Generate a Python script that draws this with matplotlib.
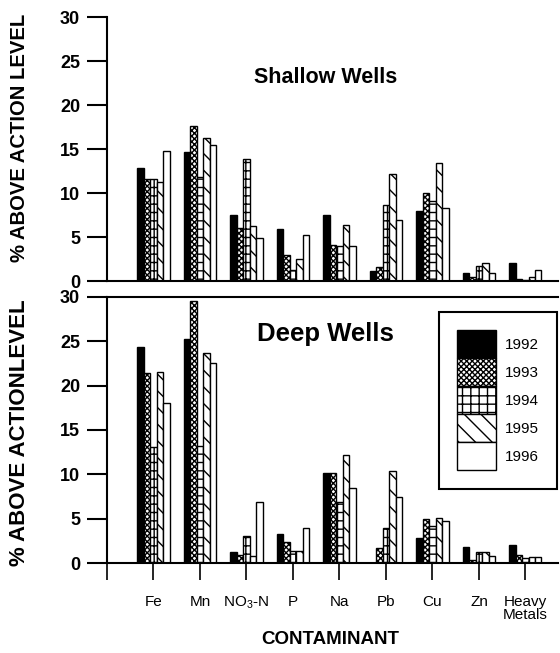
import matplotlib
matplotlib.use("Agg")
import matplotlib.pyplot as plt
from matplotlib.patches import Patch
import numpy as np

plt.rcParams['font.family'] = ['Liberation Sans', 'DejaVu Sans']
plt.rcParams['mathtext.fontset'] = 'custom'
plt.rcParams['mathtext.rm'] = 'Liberation Sans'
plt.rcParams['mathtext.it'] = 'Liberation Sans'
plt.rcParams['hatch.linewidth'] = 1.0

categories = ['Fe', 'Mn', 'NO$_3$-N', 'P', 'Na', 'Pb', 'Cu', 'Zn', 'Heavy\nMetals']
years = ['1992', '1993', '1994', '1995', '1996']

shallow_1992 = [12.8, 14.7, 7.5, 5.9, 7.5, 1.1, 8.0, 0.95, 2.1]
shallow_1993 = [11.6, 17.6, 6.0, 2.9, 4.1, 1.6, 10.0, 0.5, 0.2]
shallow_1994 = [11.6, 11.85, 13.9, 1.2, 4.0, 8.6, 9.1, 1.7, 0.1]
shallow_1995 = [11.3, 16.3, 6.2, 2.5, 6.4, 12.2, 13.4, 2.1, 0.5]
shallow_1996 = [14.8, 15.4, 4.85, 5.2, 4.0, 6.9, 8.3, 0.9, 1.2]

deep_1992 = [24.4, 25.3, 1.2, 3.3, 10.2, 0.0, 2.8, 1.8, 2.0]
deep_1993 = [21.4, 29.5, 0.9, 2.4, 10.2, 1.7, 5.0, 0.3, 0.9]
deep_1994 = [13.1, 13.2, 3.1, 1.3, 6.9, 4.0, 4.2, 1.2, 0.6]
deep_1995 = [21.5, 23.7, 0.8, 1.3, 12.2, 10.4, 5.1, 1.2, 0.7]
deep_1996 = [18.0, 22.6, 6.9, 4.0, 8.5, 7.4, 4.7, 0.8, 0.7]

shallow = [shallow_1992, shallow_1993, shallow_1994, shallow_1995, shallow_1996]
deep = [deep_1992, deep_1993, deep_1994, deep_1995, deep_1996]

styles = [
    dict(facecolor='black', hatch=None),
    dict(facecolor='white', hatch='xxxxxx'),
    dict(facecolor='white', hatch='++'),
    dict(facecolor='white', hatch='\\\\'),
    dict(facecolor='white', hatch=None),
]

W, H = 560, 653
fig = plt.figure(figsize=(W / 100, H / 100), dpi=100)

def frac(left, top, right, bottom):
    return [left / W, 1 - bottom / H, (right - left) / W, (bottom - top) / H]

ax1 = fig.add_axes(frac(107, 17, 558, 281))
ax2 = fig.add_axes(frac(107, 297, 558, 563))

x = np.arange(1, len(categories) + 1)
bw = 0.138

for ax, data in ((ax1, shallow), (ax2, deep)):
    for i, vals in enumerate(data):
        ax.bar(x + (i - 2) * bw, vals, width=bw, edgecolor='black',
               linewidth=1.0, **styles[i])
    ax.set_xlim(0, 9.7)
    ax.set_ylim(0, 30)
    ax.set_yticks([0, 5, 10, 15, 20, 25, 30])
    ax.tick_params(axis='y', direction='out', length=14.4, width=1.5,
                   labelsize=13, pad=5)
    for lbl in ax.get_yticklabels():
        lbl.set_fontweight('bold')
    ax.spines['right'].set_visible(False)
    ax.spines['left'].set_linewidth(1.5)
    ax.spines['bottom'].set_linewidth(1.5)

ax1.spines['top'].set_visible(False)
ax1.set_xticks([])
ax2.spines['top'].set_linewidth(1.5)
ax2.set_xticks([0] + list(x))
ax2.set_xticklabels([''] + categories, fontsize=11, linespacing=0.9)
ax2.tick_params(axis='x', direction='out', length=12, width=1.2, pad=11)

ax1.text(0.485, 0.77, 'Shallow Wells', transform=ax1.transAxes, fontsize=15.5,
         fontweight='bold', ha='center', va='center')
ax2.text(0.485, 0.86, 'Deep Wells', transform=ax2.transAxes, fontsize=18.5,
         fontweight='bold', ha='center', va='center')

fig.text(0.035, 1 - 138 / H, '% ABOVE ACTION LEVEL', rotation=90, fontsize=14.6,
         fontweight='bold', ha='center', va='center')
fig.text(0.035, 1 - 433 / H, '% ABOVE ACTIONLEVEL', rotation=90, fontsize=16,
         fontweight='bold', ha='center', va='center')
fig.text(330 / W, 1 - 640 / H, 'CONTAMINANT', fontsize=13.5, fontweight='bold',
         ha='center', va='center')

handles = [Patch(edgecolor='black', linewidth=1.0, **st) for st in styles]
leg = ax2.legend(handles, years, loc='upper right',
                 bbox_to_anchor=(557 / W, 1 - 312 / H),
                 bbox_transform=fig.transFigure, fontsize=11,
                 handlelength=2.49, handleheight=2.44, handletextpad=0.6,
                 labelspacing=0.0, borderpad=1.2, borderaxespad=0,
                 fancybox=False, framealpha=1)
leg.get_frame().set_edgecolor('black')
leg.get_frame().set_linewidth(1.5)

fig.savefig('out.png', dpi=100)
